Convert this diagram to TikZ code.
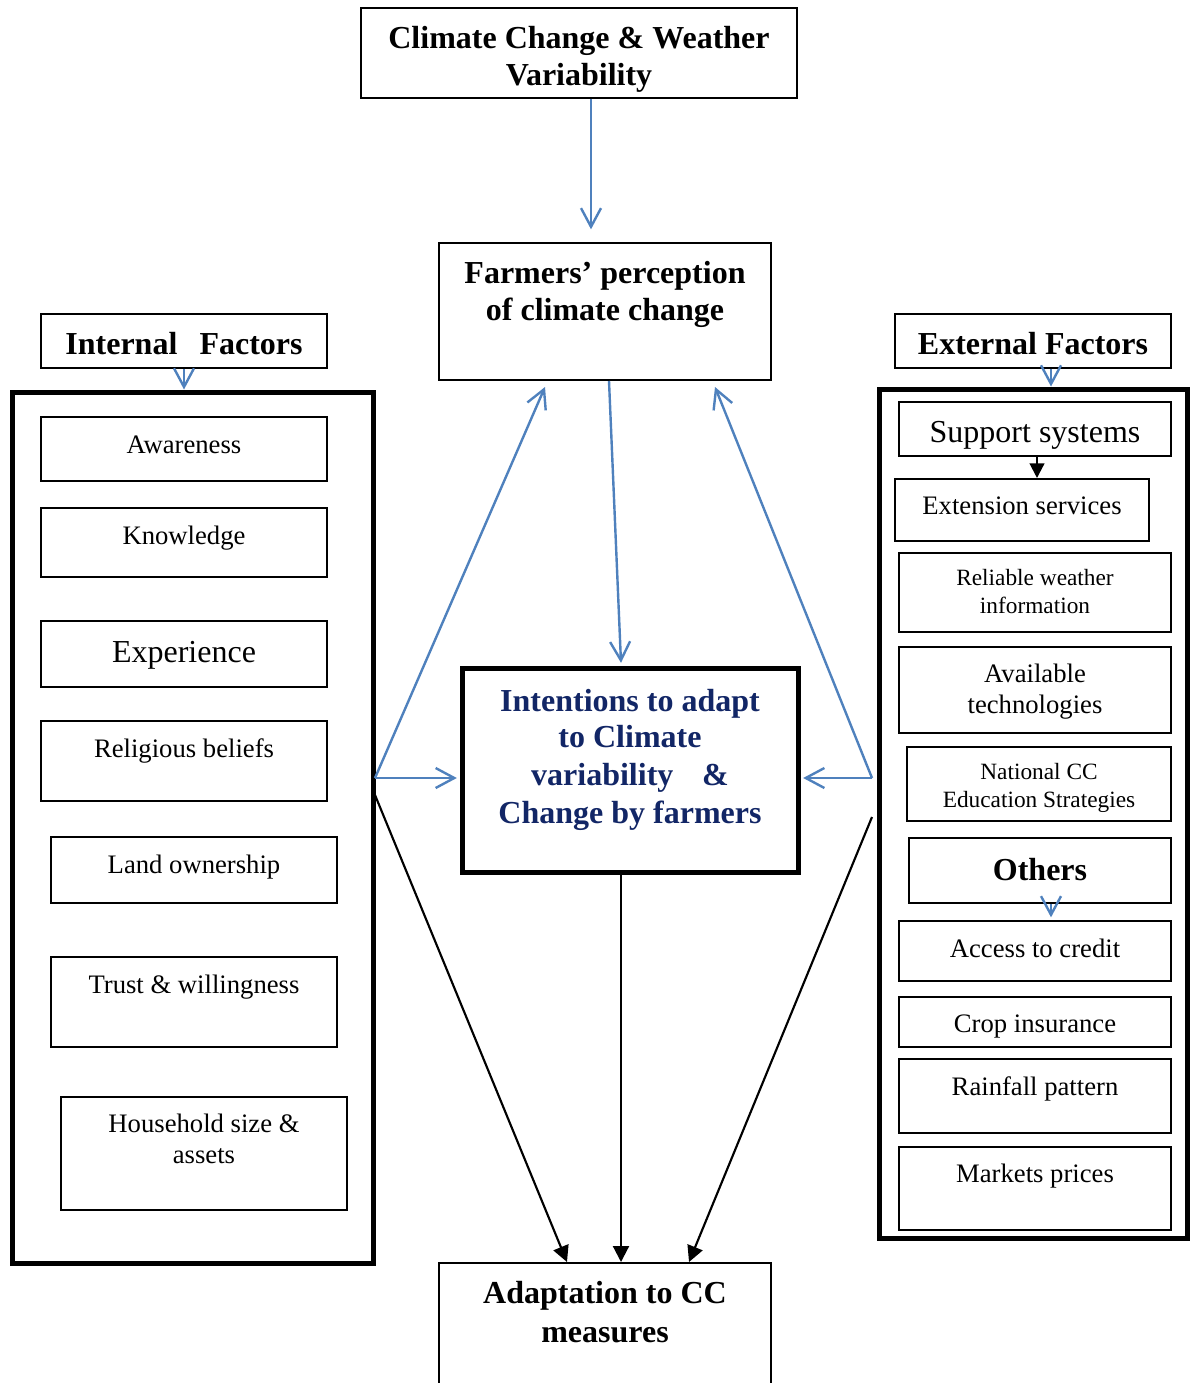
\documentclass[tikz,border=0pt]{standalone}
\usepackage{fontspec}
\setmainfont{Liberation Serif}
\usetikzlibrary{arrows.meta}
\definecolor{arrblue}{RGB}{79,129,189}
\definecolor{navy}{RGB}{18,38,102}
\tikzset{
 bx/.style={draw, line width=1.5pt, inner sep=0pt},
 thickbx/.style={draw, line width=3.75pt, inner sep=0pt},
 lbl/.style={anchor=base, inner sep=0pt, font=\fontsize{20}{24}\selectfont},
 biglbl/.style={anchor=base, inner sep=0pt, font=\fontsize{24}{28}\selectfont},
 smlbl/.style={anchor=base, inner sep=0pt, font=\fontsize{17.5}{21}\selectfont},
 hd/.style={anchor=base, inner sep=0pt, font=\fontsize{24}{28}\selectfont\bfseries},
 navyhd/.style={anchor=base, inner sep=0pt, text=navy, font=\fontsize{24}{28}\selectfont\bfseries},
 blu/.style={draw=arrblue, line width=1.8pt, -{Straight Barb[length=14pt,width=15pt,line width=1.8pt]}},
 blk/.style={draw=black, line width=1.6pt, -{Triangle[length=12pt,width=12pt]}},
}
\newcommand\mybox[6][bx]{\node[#1, minimum width={(#4-#2)*0.75pt}, minimum height={(#5-#3)*0.75pt}] (#6) at ({(#2+#4)/2},{(#3+#5)/2}) {};}
\begin{document}
\begin{tikzpicture}[x=0.75pt,y=-0.75pt]
\useasboundingbox (0,0) rectangle (1193,1383);
% boxes
\mybox{361}{8}{797}{98}{cc}
\mybox{439}{243}{771}{380}{farm}
\mybox{41}{314}{327}{368}{intf}
\mybox[thickbx]{12}{392}{373}{1263}{lframe}
\mybox{41}{417}{327}{481}{aware}
\mybox{41}{508}{327}{577}{know}
\mybox{41}{621}{327}{687}{exper}
\mybox{41}{721}{327}{801}{relig}
\mybox{51}{837}{337}{903}{land}
\mybox{51}{957}{337}{1047}{trust}
\mybox{61}{1097}{347}{1210}{house}
\mybox[thickbx]{462}{668}{798}{872}{cen}
\mybox{439}{1263}{771}{1420}{adapt}
\mybox{895}{314}{1171}{368}{extf}
\mybox[thickbx]{879}{389}{1187}{1238}{rframe}
\mybox{899}{402}{1171}{456}{supp}
\mybox{895}{479}{1149}{541}{exten}
\mybox{899}{553}{1171}{632}{weather}
\mybox{899}{647}{1171}{733}{tech}
\mybox{907}{747}{1171}{821}{natcc}
\mybox{909}{838}{1171}{903}{others}
\mybox{899}{921}{1171}{981}{credit}
\mybox{899}{997}{1171}{1047}{crop}
\mybox{899}{1059}{1171}{1133}{rain}
\mybox{899}{1147}{1171}{1230}{market}
% texts
\node[hd] at (579,49) {Climate Change \& Weather};
\node[hd] at (579,86) {Variability};
\node[hd] at (605,284) {Farmers’ perception};
\node[hd] at (605,321) {of climate change};
\node[hd] at (184,354) {Internal\hspace{0.69em}Factors};
\node[lbl] at (184,453) {Awareness};
\node[lbl] at (184,544) {Knowledge};
\node[biglbl] at (184,662) {Experience};
\node[lbl] at (184,757) {Religious beliefs};
\node[lbl] at (194,873) {Land ownership};
\node[lbl] at (194,993) {Trust \& willingness};
\node[lbl] at (204,1132) {Household size \&};
\node[lbl] at (204,1163) {assets};
\node[navyhd] at (630,711) {Intentions to adapt};
\node[navyhd] at (630,747) {to Climate};
\node[navyhd] at (630,785) {variability\hspace{0.9em}\&};
\node[navyhd] at (630,823) {Change by farmers};
\node[hd] at (605,1303) {Adaptation to CC};
\node[hd] at (605,1342) {measures};
\node[hd] at (1033,354) {External Factors};
\node[biglbl] at (1035,442) {Support systems};
\node[lbl] at (1022,514) {Extension services};
\node[smlbl] at (1035,585) {Reliable weather};
\node[smlbl] at (1035,613) {information};
\node[lbl] at (1035,682) {Available};
\node[lbl] at (1035,713) {technologies};
\node[smlbl] at (1039,779) {National CC};
\node[smlbl] at (1039,807) {Education Strategies};
\node[hd] at (1040,880) {Others};
\node[lbl] at (1035,957) {Access to credit};
\node[lbl] at (1035,1032) {Crop insurance};
\node[lbl] at (1035,1095) {Rainfall pattern};
\node[lbl] at (1035,1182) {Markets prices};
% connector points on the frames
\coordinate (L1) at (375,778);
\coordinate (L2) at (375,795);
\coordinate (R1) at (872,778);
\coordinate (R2) at (872,817);
% connectors
\draw[blu, shorten >=9.5pt] ([xshift=9pt]cc.south) -- ([xshift=9pt]cc.south |- farm.north);
\draw[blu] (intf.south) -- (intf.south |- lframe.north);
\draw[blu] ([xshift=13.5pt]extf.south) -- ([xshift=13.5pt]extf.south |- rframe.north);
\draw[blu] ([xshift=8.25pt]others.south) -- ([xshift=8.25pt,yshift=2pt]others.south |- credit.north);
\draw[blk, -{Triangle[length=11pt,width=11pt]}] ([xshift=1.5pt]supp.south) -- ([xshift=1.5pt]supp.south |- exten.north);
\draw[blu] (L1) -- ([xshift=80.25pt,yshift=-4.5pt]farm.south west);
\draw[blu] (R1) -- ([xshift=207.75pt,yshift=-4.5pt]farm.south west);
\draw[blu] (L1) -- ([xshift=-2pt]L1 -| cen.west);
\draw[blu] (R1) -- ([xshift=2pt]R1 -| cen.east);
\draw[blu] ([xshift=3pt]farm.south) -- ([xshift=-6.75pt,yshift=2pt]cen.north);
\draw[blk] (L2) -- ([xshift=96.75pt]adapt.north west);
\draw[blk] ([xshift=-6.75pt]cen.south) -- ([xshift=-6.75pt]cen.south |- adapt.north);
\draw[blk] (R2) -- ([xshift=188.25pt]adapt.north west);
\end{tikzpicture}
\end{document}
